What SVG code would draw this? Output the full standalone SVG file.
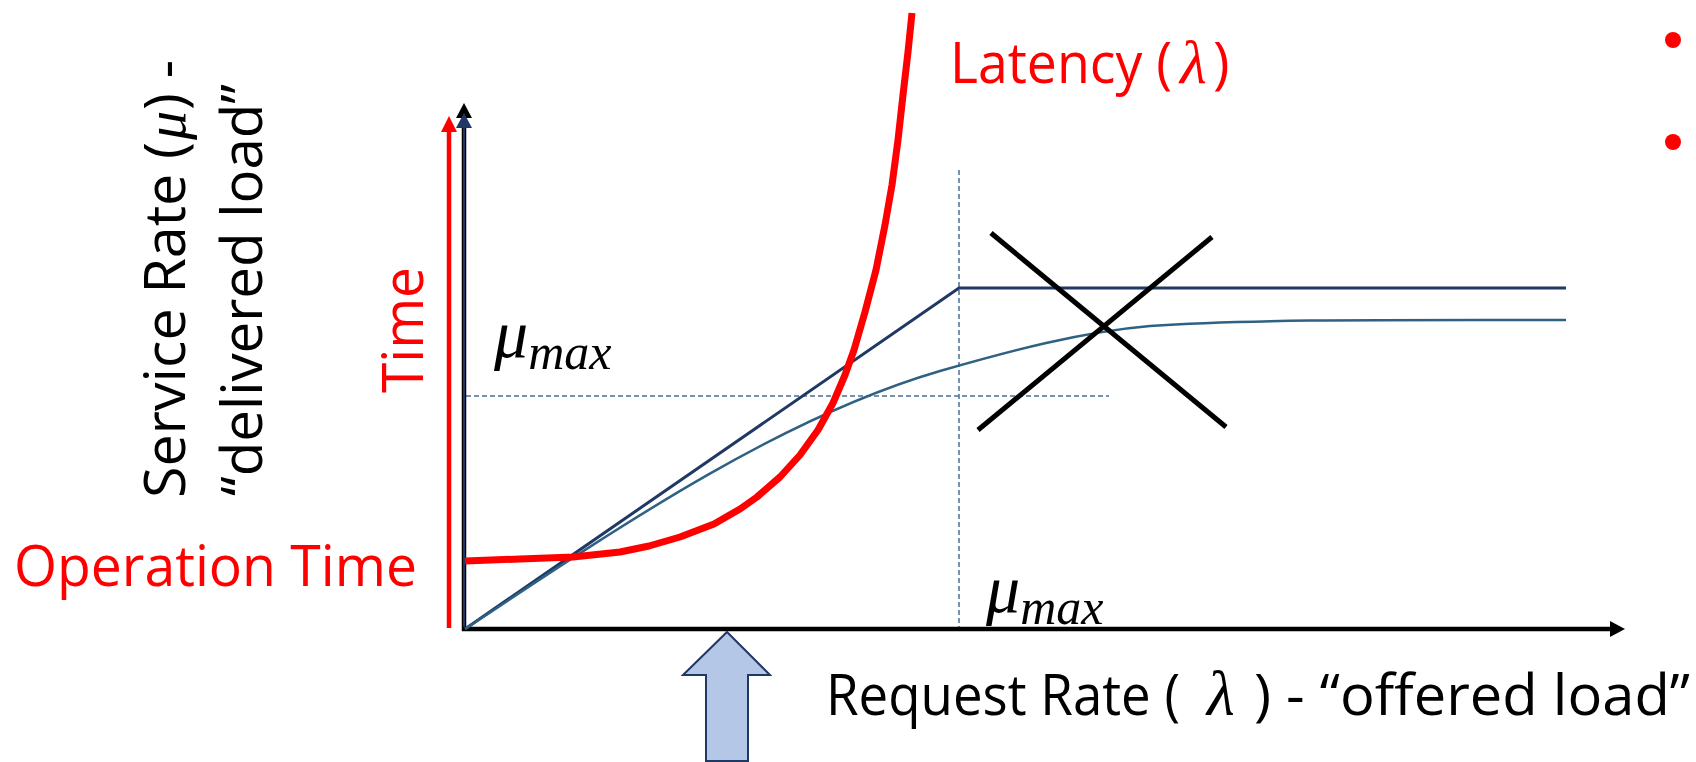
<svg xmlns="http://www.w3.org/2000/svg" width="1696" height="762" viewBox="0 0 1696 762">
  <style>
    .lbl { font-family: "Open Sans", "Liberation Sans", sans-serif; font-size: 56px; }
    .math { font-family: "Liberation Serif", "DejaVu Serif", serif; font-style: italic; }
    .red { fill: #FF0000; }
    .blk { fill: #000000; }
    .dash { fill: none; stroke: #4A6F96; stroke-width: 1.5; stroke-dasharray: 5 3; }
  </style>
  <defs>
    <marker id="headBlack" viewBox="0 0 15 16" markerUnits="userSpaceOnUse" markerWidth="15" markerHeight="16" refX="0" refY="8" orient="auto">
      <path d="M0,0 L15,8 L0,16 Z" fill="#000000"/>
    </marker>
    <marker id="headNavy" viewBox="0 0 15 16" markerUnits="userSpaceOnUse" markerWidth="15" markerHeight="16" refX="0" refY="8" orient="auto">
      <path d="M0,0 L15,8 L0,16 Z" fill="#1F3864"/>
    </marker>
    <marker id="headRed" viewBox="0 0 16 16" markerUnits="userSpaceOnUse" markerWidth="16" markerHeight="16" refX="0" refY="8" orient="auto">
      <path d="M0,0 L16,8 L0,16 Z" fill="#FF0000"/>
    </marker>
  </defs>

  <rect width="1696" height="762" fill="#FFFFFF"/>

  <!-- guide lines at the saturation point -->
  <g id="guides">
    <line class="dash" x1="959" y1="170" x2="959" y2="627"/>
    <line class="dash" x1="466" y1="396" x2="1109" y2="396"/>
  </g>

  <!-- axes -->
  <g id="axes">
    <line x1="449" y1="628" x2="449" y2="132" stroke="#FF0000" stroke-width="4.5" marker-end="url(#headRed)"/>
    <line x1="464" y1="631" x2="464" y2="118" stroke="#000000" stroke-width="4.5" marker-end="url(#headBlack)"/>
    <line x1="464" y1="629" x2="464" y2="128" stroke="#1F3864" stroke-width="2" marker-end="url(#headNavy)"/>
    <line x1="462" y1="629" x2="1610" y2="629" stroke="#000000" stroke-width="4.5" marker-end="url(#headBlack)"/>
  </g>

  <!-- connectors: the plotted curves -->
  <g id="curves">
    <!-- ideal service rate: linear until saturation, then flat -->
    <polyline points="465,629 959,288 1566,288" fill="none" stroke="#1F3864" stroke-width="3" stroke-linejoin="miter"/>
    <!-- real service rate: bends towards the ceiling -->
    <path d="M465,629 C623,524 782,417 940,371 C1010,351 1080,332 1150,326 C1250,319 1400,320 1566,320" fill="none" stroke="#2E6183" stroke-width="2.5"/>
    <!-- latency curve -->
    <path d="M465,561 L520,559 L573,557 L620,552 L649,546 L680,537 L714,524 L740,509 L757,497 L780,477 L800,455 L818,430 L833,403 L845,375 L854,350 L865,312 L876,270 L885,225 L892,185 L898,140 L903,95 L908,52 L912,13" fill="none" stroke="#FF0000" stroke-width="7" stroke-linejoin="round"/>
  </g>

  <!-- crossed-out region -->
  <g id="cross">
    <line x1="991" y1="233" x2="1226" y2="427" stroke="#000000" stroke-width="5"/>
    <line x1="1212" y1="237" x2="978" y2="430" stroke="#000000" stroke-width="5"/>
  </g>

  <!-- operating point marker -->
  <g id="load-arrow">
    <polygon points="727,632 770,675 748,675 748,761 706,761 706,675 683,675" fill="#B4C7E7" stroke="#1F3864" stroke-width="2" stroke-linejoin="miter"/>
  </g>

  <!-- bullets -->
  <g id="bullets">
    <circle cx="1673" cy="40" r="8" fill="#FF0000"/>
    <circle cx="1673" cy="142" r="8" fill="#FF0000"/>
  </g>

  <!-- labels -->
  <g id="label-latency">
    <text class="lbl red" x="950" y="83" textLength="222" lengthAdjust="spacingAndGlyphs">Latency (</text>
    <text class="math red" x="1180" y="83" font-size="62">λ</text>
    <text class="lbl red" x="1213" y="83">)</text>
  </g>

  <g id="label-request">
    <text class="lbl blk" x="826" y="715" textLength="354" lengthAdjust="spacingAndGlyphs">Request Rate (</text>
    <text class="math blk" x="1207" y="715" font-size="64">λ</text>
    <text class="lbl blk" x="1254" y="715" textLength="436" lengthAdjust="spacingAndGlyphs">) - “offered load”</text>
  </g>

  <g id="label-service" transform="translate(185,498) rotate(-90)">
    <text class="lbl blk" x="0" y="0" textLength="356" lengthAdjust="spacingAndGlyphs">Service Rate (</text>
    <text class="math blk" x="358" y="0" font-size="58">μ</text>
    <text class="lbl blk" x="388" y="0" textLength="50" lengthAdjust="spacingAndGlyphs">) -</text>
  </g>
  <g id="label-delivered" transform="translate(262,496) rotate(-90)">
    <text class="lbl blk" x="0" y="0" textLength="412" lengthAdjust="spacingAndGlyphs">“delivered load”</text>
  </g>

  <g id="label-time" transform="translate(423,393) rotate(-90)">
    <text class="lbl red" x="0" y="0" textLength="126" lengthAdjust="spacingAndGlyphs">Time</text>
  </g>

  <g id="label-operation">
    <text class="lbl red" x="14" y="586" textLength="403" lengthAdjust="spacingAndGlyphs">Operation Time</text>
  </g>

  <g id="label-mumax-y">
    <text class="math blk" x="494" y="357" font-size="68">μ<tspan font-size="50" dy="12">max</tspan></text>
  </g>
  <g id="label-mumax-x">
    <text class="math blk" x="986" y="612" font-size="68">μ<tspan font-size="50" dy="12">max</tspan></text>
  </g>
</svg>
